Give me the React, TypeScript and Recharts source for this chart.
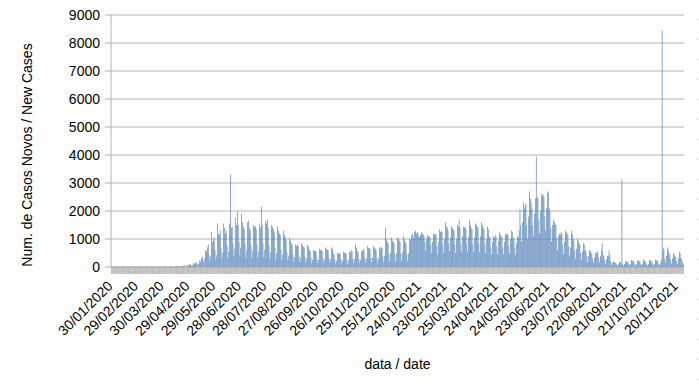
import React from 'react'
import { BarChart, Bar, XAxis, YAxis, CartesianGrid } from 'recharts'

// daily new cases, one row per week (Thu..Wed), starting 30/01/2020
const weeklyCases: number[][] = [
  [0, 0, 0, 0, 0, 0, 0],
  [0, 0, 0, 0, 0, 0, 0],
  [0, 0, 0, 0, 0, 0, 0],
  [0, 0, 0, 0, 0, 0, 0],
  [0, 0, 0, 0, 0, 0, 0],
  [0, 0, 0, 0, 1, 0, 0],
  [0, 1, 0, 0, 0, 2, 1],
  [1, 2, 0, 0, 1, 3, 2],
  [2, 4, 1, 0, 2, 5, 3],
  [6, 8, 3, 1, 4, 10, 7],
  [12, 15, 6, 3, 8, 18, 14],
  [22, 25, 12, 5, 14, 30, 26],
  [45, 52, 30, 12, 35, 70, 60],
  [90, 105, 60, 25, 70, 130, 115],
  [150, 170, 110, 55, 120, 230, 200],
  [320, 380, 250, 140, 300, 600, 560],
  [700, 820, 450, 250, 380, 1250, 900],
  [980, 1050, 600, 280, 420, 1550, 1200],
  [1150, 1300, 700, 300, 500, 1550, 1400],
  [1200, 1300, 760, 310, 560, 1550, 3300],
  [1400, 1450, 850, 380, 650, 1750, 1500],
  [2000, 1500, 900, 400, 700, 1900, 1600],
  [1450, 1350, 820, 350, 600, 1600, 1650],
  [1400, 1300, 780, 320, 580, 1500, 1450],
  [1450, 1350, 800, 330, 560, 1550, 1400],
  [2150, 1500, 820, 360, 620, 1650, 1550],
  [1700, 1400, 760, 300, 540, 1500, 1450],
  [1350, 1250, 700, 280, 500, 1450, 1300],
  [1200, 1150, 620, 260, 450, 1300, 1150],
  [1050, 950, 520, 230, 400, 1050, 950],
  [850, 800, 450, 200, 350, 800, 750],
  [800, 760, 420, 190, 330, 850, 780],
  [720, 700, 380, 170, 300, 800, 720],
  [600, 560, 320, 150, 260, 600, 580],
  [580, 550, 300, 140, 250, 650, 600],
  [620, 580, 330, 150, 270, 700, 640],
  [620, 600, 340, 160, 280, 700, 650],
  [480, 450, 260, 120, 220, 500, 470],
  [500, 480, 280, 130, 230, 550, 500],
  [520, 480, 270, 120, 240, 550, 520],
  [600, 560, 300, 140, 280, 800, 700],
  [580, 520, 290, 130, 260, 600, 560],
  [650, 600, 320, 150, 300, 750, 680],
  [680, 620, 340, 160, 320, 750, 700],
  [650, 600, 330, 160, 300, 700, 660],
  [720, 680, 380, 180, 400, 1400, 1000],
  [900, 850, 450, 200, 500, 1050, 950],
  [900, 850, 450, 200, 500, 1050, 1000],
  [950, 900, 480, 220, 520, 1100, 1000],
  [880, 850, 460, 200, 480, 1000, 950],
  [1100, 1200, 1150, 1000, 1250, 1300, 1200],
  [1250, 1200, 1100, 1050, 1150, 1250, 1200],
  [1150, 1100, 900, 600, 1000, 1150, 1100],
  [1100, 1050, 800, 500, 900, 1200, 1150],
  [1200, 1150, 750, 450, 900, 1350, 1250],
  [1300, 1250, 800, 500, 1000, 1600, 1450],
  [1400, 1300, 850, 550, 1050, 1450, 1400],
  [1350, 1300, 800, 500, 1000, 1500, 1450],
  [1700, 1400, 850, 550, 1100, 1450, 1400],
  [1450, 1350, 850, 550, 1100, 1700, 1500],
  [1400, 1350, 820, 520, 1050, 1550, 1500],
  [1450, 1400, 850, 530, 1100, 1600, 1500],
  [1400, 1350, 800, 500, 1000, 1450, 1350],
  [1100, 1050, 700, 450, 900, 1100, 1050],
  [1150, 1100, 720, 460, 950, 1250, 1150],
  [1100, 1050, 700, 450, 900, 1200, 1150],
  [1200, 1150, 750, 480, 1000, 1300, 1250],
  [1050, 1000, 680, 420, 850, 1100, 1050],
  [1300, 2050, 1500, 900, 1600, 2300, 2100],
  [2200, 2250, 1500, 1000, 1800, 2700, 2450],
  [2300, 2100, 1500, 1100, 1900, 2450, 3950],
  [2500, 2450, 1700, 1200, 2000, 2600, 2550],
  [2600, 2500, 1800, 1300, 2100, 2650, 2700],
  [2100, 2000, 1400, 900, 1500, 1700, 1600],
  [1550, 1500, 1000, 600, 1100, 1200, 1150],
  [1250, 1200, 800, 450, 900, 1300, 1250],
  [1200, 1150, 750, 400, 700, 1300, 1200],
  [1000, 950, 600, 300, 650, 1000, 950],
  [850, 800, 500, 250, 550, 850, 800],
  [600, 580, 380, 180, 400, 600, 580],
  [500, 480, 300, 150, 350, 500, 480],
  [550, 520, 320, 160, 380, 600, 850],
  [420, 400, 260, 120, 280, 400, 380],
  [600, 450, 200, 80, 150, 200, 180],
  [150, 140, 90, 50, 100, 180, 160],
  [170, 3150, 100, 50, 110, 200, 180],
  [220, 200, 110, 60, 120, 250, 230],
  [210, 190, 100, 50, 110, 240, 220],
  [230, 200, 110, 60, 120, 260, 240],
  [200, 190, 100, 50, 110, 250, 230],
  [220, 200, 110, 55, 120, 260, 240],
  [230, 210, 120, 60, 130, 270, 8450],
  [700, 650, 300, 150, 400, 700, 600],
  [500, 450, 250, 120, 300, 500, 450],
  [380, 350, 200, 100, 300, 550, 480],
  [320, 280, 150, 90],
]

const yTicks = [0, 1000, 2000, 3000, 4000, 5000, 6000, 7000, 8000, 9000]
const labelEvery = 30
const startDate = Date.UTC(2020, 0, 30)

const pad = (n: number) => String(n).padStart(2, '0')
const fmt = (t: number) => {
  const d = new Date(t)
  return `${pad(d.getUTCDate())}/${pad(d.getUTCMonth() + 1)}/${d.getUTCFullYear()}`
}

const cases = weeklyCases.flat()
const data = cases.map((v, i) => ({ date: fmt(startDate + i * 86400000), cases: v }))

const FONT = '"Liberation Sans", Arial, sans-serif'
const GRID = '#b3b3b3'

const DateTick = (props: any) => {
  const { x, y, payload } = props
  const idx = props.index ?? payload.index
  if (idx % labelEvery !== 0) return null
  return (
    <g transform={`translate(${x + 2},${y + 11})`}>
      <text transform="rotate(-45)" textAnchor="end" fontSize={14} fontFamily={FONT} fill="#000">
        {payload.value}
      </text>
    </g>
  )
}

const YTitle = (props: any) => {
  const vb = props.viewBox || { y: 15, height: 252 }
  const cx = 27
  const cy = vb.y + vb.height / 2 + 14
  return (
    <text x={cx} y={cy} transform={`rotate(-90 ${cx} ${cy})`} textAnchor="middle"
      dominantBaseline="central" fontSize={14} fontFamily={FONT} fill="#000">
      Num. de Casos Novos / New Cases
    </text>
  )
}

const XTitle = (props: any) => {
  const vb = props.viewBox || { x: 111, y: 267, width: 573 }
  return (
    <text x={vb.x + vb.width / 2} y={vb.y + 97} textAnchor="middle" dominantBaseline="central"
      fontSize={14} fontFamily={FONT} fill="#000">
      data / date
    </text>
  )
}

export default function App() {
  return (
    <div style={{ position: 'absolute', left: 0, top: 0, width: 699, height: 390, background: '#fff' }}>
      <BarChart
        width={699}
        height={390}
        data={data}
        margin={{ top: 15, right: 15, left: 0, bottom: 0 }}
        barCategoryGap="12%"
      >
        <CartesianGrid vertical={false} stroke={GRID} strokeWidth={1} />
        <XAxis
          dataKey="date"
          interval={0}
          height={123}
          tickSize={7}
          tickMargin={2}
          tickLine={{ stroke: '#a8a8a8', strokeWidth: 0.7 }}
          axisLine={{ stroke: GRID }}
          tick={<DateTick />}
          label={<XTitle />}
        />
        <YAxis
          width={111}
          domain={[0, 9000]}
          ticks={yTicks}
          interval={0}
          tickSize={6}
          tickMargin={5}
          tickLine={{ stroke: GRID }}
          axisLine={{ stroke: GRID }}
          tick={{ fontSize: 14, fontFamily: FONT, fill: '#000' }}
          label={<YTitle />}
        />
        <YAxis
          yAxisId="frame"
          orientation="right"
          width={0}
          tick={false}
          tickLine={false}
          axisLine={{ stroke: GRID }}
        />
        <Bar dataKey="cases" fill="#4f7fb5" isAnimationActive={false} />
      </BarChart>
      <div style={{ position: 'absolute', left: 697, top: 0, width: 1, height: 390,
        background: 'repeating-linear-gradient(to bottom, transparent 0 19px, #c8c8c8 19px 20px)' }} />
    </div>
  )
}
